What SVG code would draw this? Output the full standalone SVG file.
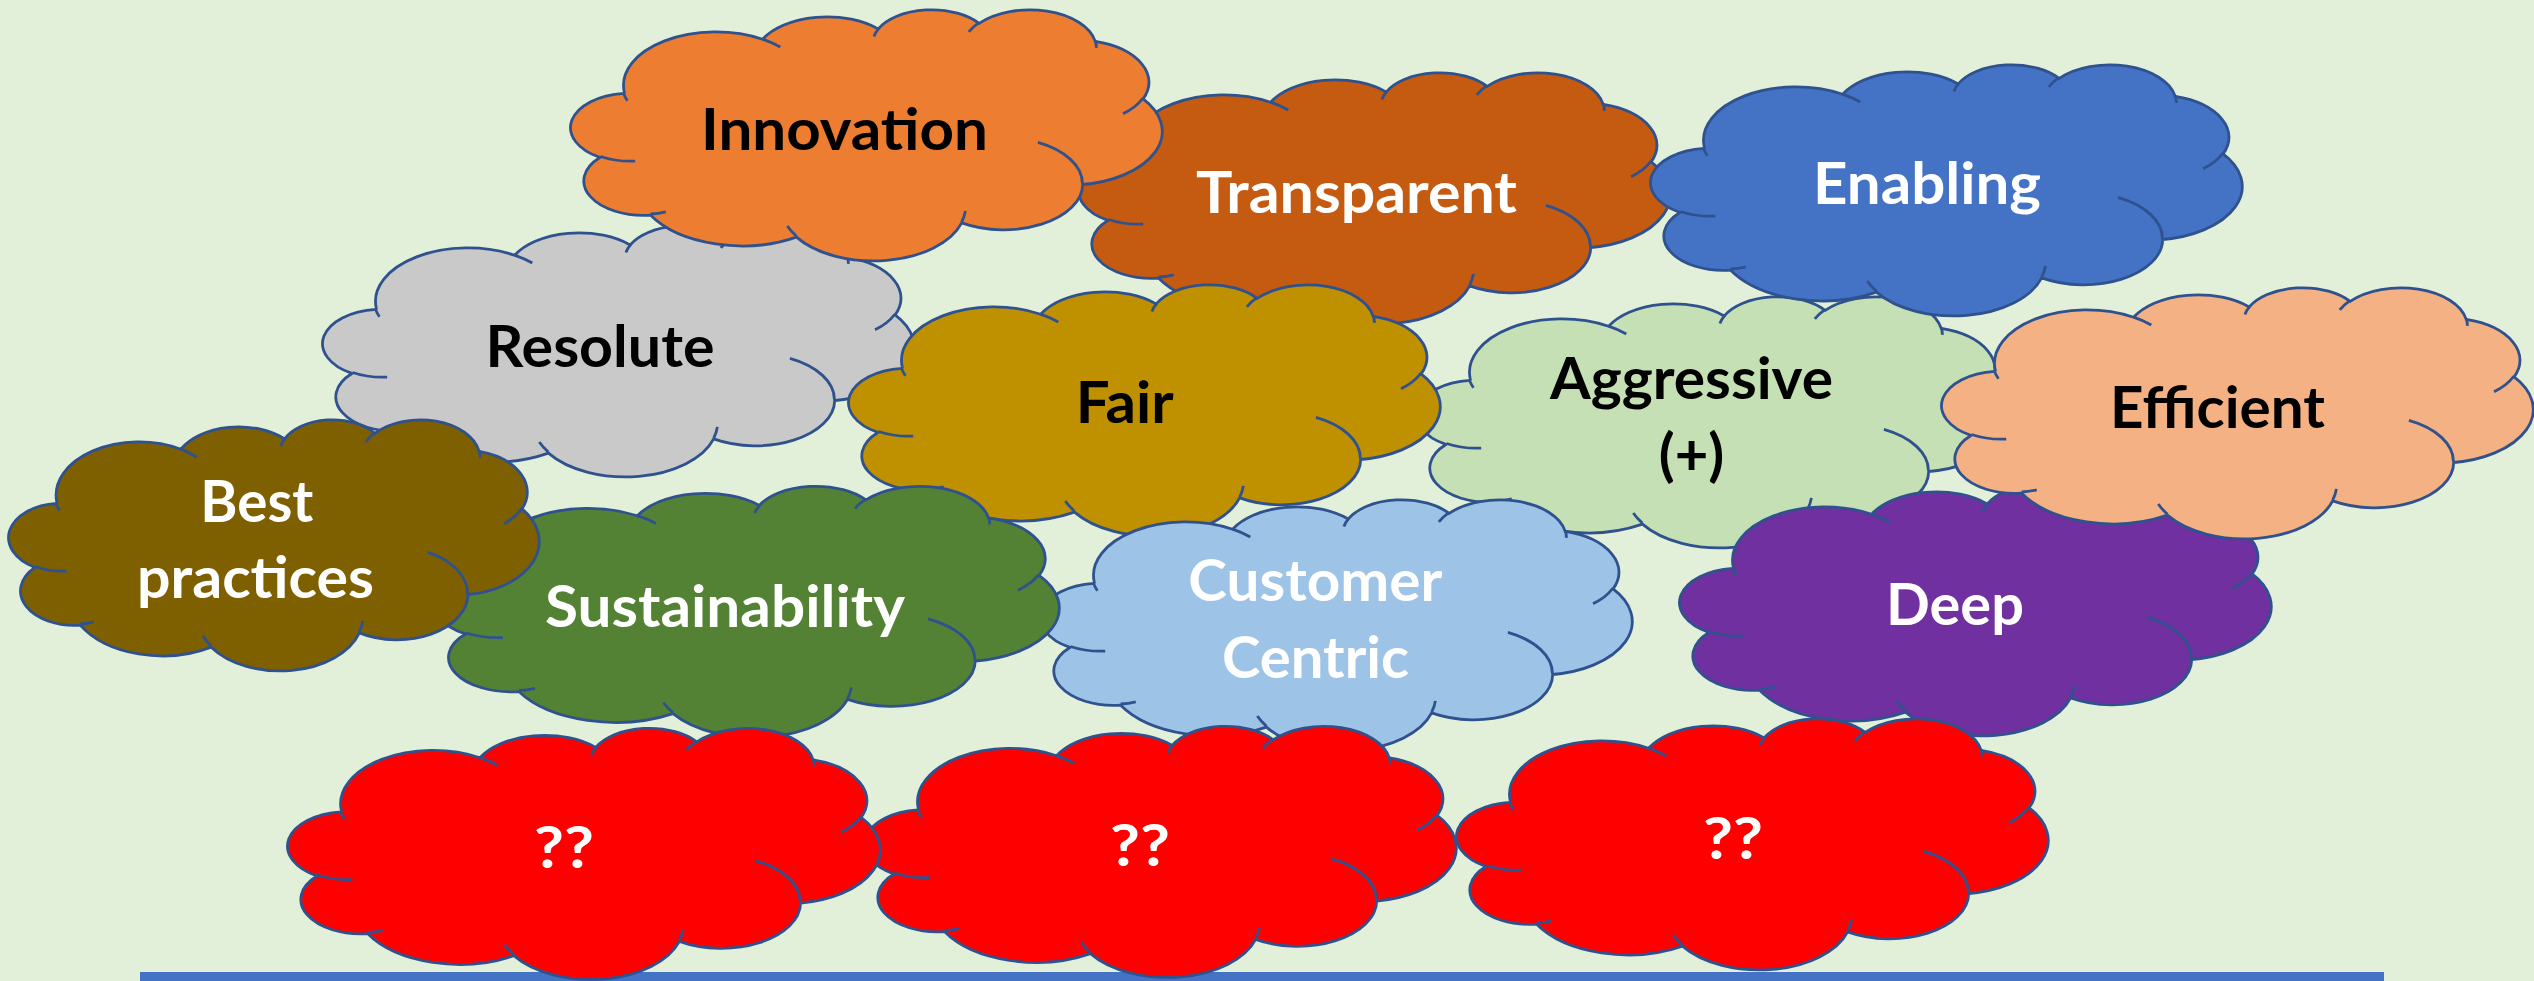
<svg xmlns="http://www.w3.org/2000/svg" xmlns:xlink="http://www.w3.org/1999/xlink" width="2534" height="981" viewBox="0 0 2534 981">
<style>
.t{font-family:Lato,"Liberation Sans",sans-serif;font-weight:700;font-size:58px;text-anchor:middle}
.w{fill:#FFFFFF}
.k{fill:#000000}
</style>
<defs>
<path id="cb" stroke="#2F528F" stroke-width="2.8" vector-effect="non-scaling-stroke" d="M39,143.7 A67.53,91.9 0 0 1 140.05,52.02 A53.33,72.67 0 0 1 224.56,34.32 A43.65,59.45 0 0 1 298.33,24.81 A48.57,65.95 0 0 1 383.18,55.76 A53.33,72.73 0 0 1 418.18,154.6 A67.75,92.2 0 0 1 374.04,302.04 A57.85,78.67 0 0 1 285.56,368.14 A67.52,92.15 0 0 1 164.8,392.65 A77.2,105.43 0 0 1 58.04,354.71 A43.6,59.18 0 0 1 21.13,255.49 A43.45,59.45 0 0 1 38.63,145.05 Z"/>
<path id="cd" fill="none" stroke="#2F528F" stroke-width="2.8" vector-effect="non-scaling-stroke" d="M46.93,261.77 A43.45,59.45 0 0 1 21.6,253.8 M69.28,348.99 A43.6,59.18 0 0 1 58.2,352.8 M164.78,390.9 A67.52,92.15 0 0 1 158.1,373.5 M288.27,347.51 A67.52,92.15 0 0 1 285.6,366.6 M341.29,229.54 A57.85,78.67 0 0 1 373.81,300.9 M417.98,153.54 A53.33,72.73 0 0 1 403.5,180.3 M383.24,54.26 A48.57,65.95 0 0 1 384,66.9 M290.78,39.52 A48.57,65.95 0 0 1 298.2,23.4 M221.41,47.2 A43.65,59.45 0 0 1 225,33.3 M140,51.92 A67.53,91.9 0 0 1 153,65.4 M41.27,157.89 A67.53,91.9 0 0 1 38.56,146.31"/>
</defs>
<rect x="0" y="0" width="2534" height="981" fill="#E2F0D9"/>
<g id="connectors"></g>
<rect id="baseline-bar" x="140" y="972" width="2244" height="12" fill="#4472C4"/>

<g id="resolute">
<g transform="translate(323,225) scale(1.36806,0.58102)"><use href="#cb" fill="#C9C9C9"/><use href="#cd"/></g>
<text class="t k" x="600" y="366.7" textLength="229" lengthAdjust="spacingAndGlyphs">Resolute</text>
</g>
<g id="transparent">
<g transform="translate(1079,72) scale(1.36806,0.58102)"><use href="#cb" fill="#C55A11"/><use href="#cd"/></g>
<text class="t w" x="1356.5" y="213" textLength="321" lengthAdjust="spacingAndGlyphs">Transparent</text>
</g>
<g id="innovation">
<g transform="translate(571,9) scale(1.36806,0.58102)"><use href="#cb" fill="#ED7D31"/><use href="#cd"/></g>
<text class="t k" x="844.5" y="150" textLength="287" lengthAdjust="spacingAndGlyphs">Innovation</text>
</g>
<g id="aggressive">
<g transform="translate(1417,296) scale(1.36806,0.58102)"><use href="#cb" fill="#C5E0B4"/><use href="#cd"/></g>
<text class="t k" x="1691.5" y="398.5" textLength="283" lengthAdjust="spacingAndGlyphs">Aggressive</text>
<text class="t k" x="1691.5" y="475">(+)</text>
</g>
<g id="enabling">
<g transform="translate(1651,64) scale(1.36806,0.58102)"><use href="#cb" fill="#4472C4"/><use href="#cd"/></g>
<text class="t w" x="1927" y="204" textLength="228" lengthAdjust="spacingAndGlyphs">Enabling</text>
</g>
<g id="fair">
<g transform="translate(849,284) scale(1.36806,0.58102)"><use href="#cb" fill="#BF9000"/><use href="#cd"/></g>
<text class="t k" x="1124.7" y="423.3" textLength="98" lengthAdjust="spacingAndGlyphs">Fair</text>
</g>
<g id="customer-centric">
<g transform="translate(1041,499) scale(1.36806,0.58102)"><use href="#cb" fill="#9DC3E6"/><use href="#cd"/></g>
<text class="t w" x="1315.3" y="601.3" textLength="254" lengthAdjust="spacingAndGlyphs">Customer</text>
<text class="t w" x="1315.5" y="677.5" textLength="187" lengthAdjust="spacingAndGlyphs">Centric</text>
</g>
<g id="sustainability">
<g transform="translate(435,485.5) scale(1.44444,0.58102)"><use href="#cb" fill="#548235"/><use href="#cd"/></g>
<text class="t w" x="725" y="626.7" textLength="360" lengthAdjust="spacingAndGlyphs">Sustainability</text>
</g>
<g id="best-practices">
<g transform="translate(9,419) scale(1.22685,0.58102)"><use href="#cb" fill="#7F6000"/><use href="#cd"/></g>
<text class="t w" x="256.8" y="521.7" textLength="113" lengthAdjust="spacingAndGlyphs">Best</text>
<text class="t w" x="255.5" y="598.3" textLength="237" lengthAdjust="spacingAndGlyphs">practices</text>
</g>
<g id="deep">
<g transform="translate(1680,484) scale(1.36806,0.58102)"><use href="#cb" fill="#7030A0"/><use href="#cd"/></g>
<text class="t w" x="1955" y="625" textLength="138" lengthAdjust="spacingAndGlyphs">Deep</text>
</g>
<g id="efficient">
<g transform="translate(1942,287) scale(1.36806,0.58102)"><use href="#cb" fill="#F4B183"/><use href="#cd"/></g>
<text class="t k" x="2217.5" y="427.7" textLength="215" lengthAdjust="spacingAndGlyphs">Efficient</text>
</g>
<g id="unknown-3">
<g transform="translate(1457,718) scale(1.36806,0.58102)"><use href="#cb" fill="#FF0000"/><use href="#cd"/></g>
<text class="t w" x="1733" y="858.5" textLength="60" lengthAdjust="spacingAndGlyphs">??</text>
</g>
<g id="unknown-2">
<g transform="translate(865,725.5) scale(1.36806,0.58102)"><use href="#cb" fill="#FF0000"/><use href="#cd"/></g>
<text class="t w" x="1140" y="866" textLength="60" lengthAdjust="spacingAndGlyphs">??</text>
</g>
<g id="unknown-1">
<g transform="translate(288,727.5) scale(1.37037,0.58102)"><use href="#cb" fill="#FF0000"/><use href="#cd"/></g>
<text class="t w" x="564" y="867.5" textLength="60" lengthAdjust="spacingAndGlyphs">??</text>
</g>
</svg>
